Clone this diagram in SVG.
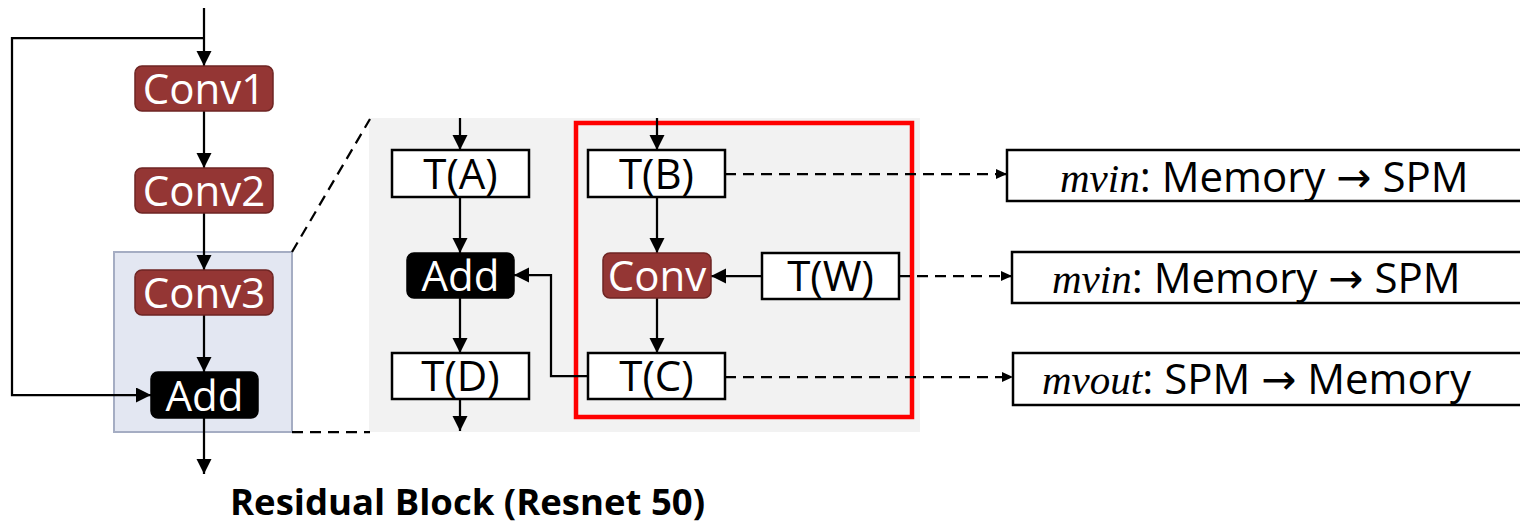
<svg xmlns="http://www.w3.org/2000/svg" width="1520" height="528" viewBox="0 0 1520 528">
<style>
.conv{fill:#943634;stroke:#6e2523;stroke-width:1.5}
.blk{fill:#000;stroke:#000;stroke-width:1.5}
.tb{fill:#fff;stroke:#000;stroke-width:2.5}
.wt{font-family:"Open Sans","Noto Sans",sans-serif;font-size:42px;fill:#fff;text-anchor:middle}
.bt{font-family:"Open Sans","Noto Sans",sans-serif;font-size:42px;fill:#000;text-anchor:middle}
.rt{font-family:"Open Sans","Noto Sans",sans-serif;font-size:42px;fill:#000}
.it{font-family:"Liberation Serif","Times New Roman",serif;font-style:italic;font-size:41px}
.ar{font-family:"DejaVu Sans",sans-serif}
.ln{fill:none;stroke:#000;stroke-width:2.25}
.dl{fill:none;stroke:#000;stroke-width:2.25;stroke-dasharray:11 7}
</style>
<defs>
<marker id="ah" markerUnits="userSpaceOnUse" markerWidth="16" markerHeight="16" refX="15" refY="7.5" orient="auto">
<path d="M0,0 L15,7.5 L0,15 z" fill="#000"/>
</marker>
<marker id="as" markerUnits="userSpaceOnUse" markerWidth="11" markerHeight="11" refX="11" refY="5" orient="auto">
<path d="M0,0 L11,5 L0,10 z" fill="#000"/>
</marker>
</defs>

<g id="background">
<rect id="zoom-region" x="114" y="252" width="178" height="180" fill="#e3e7f2" stroke="#a5adc3" stroke-width="2"/>
<rect id="gray-panel" x="369" y="118" width="551" height="314" fill="#f2f2f2"/>
<rect id="red-frame" x="576" y="123" width="336" height="294" fill="none" stroke="#ff0000" stroke-width="4.5"/>
</g>

<g id="connectors">
<path class="ln" d="M204,8 V66" marker-end="url(#ah)"/>
<path class="ln" d="M204,38 H12 V395 H151" marker-end="url(#ah)"/>
<path class="ln" d="M204,111 V168" marker-end="url(#ah)"/>
<path class="ln" d="M204,213 V270" marker-end="url(#ah)"/>
<path class="ln" d="M204,315 V372" marker-end="url(#ah)"/>
<path class="ln" d="M204,418 V474" marker-end="url(#ah)"/>
<path class="dl" d="M292,252 L370,119"/>
<path class="dl" d="M292,432 H370"/>
<path class="ln" d="M460,118 V150" marker-end="url(#ah)"/>
<path class="ln" d="M460,197 V253" marker-end="url(#ah)"/>
<path class="ln" d="M460,298 V353" marker-end="url(#ah)"/>
<path class="ln" d="M460,399 V431" marker-end="url(#ah)"/>
<path class="ln" d="M657,118 V150" marker-end="url(#ah)"/>
<path class="ln" d="M657,197 V253" marker-end="url(#ah)"/>
<path class="ln" d="M657,298 V353" marker-end="url(#ah)"/>
<path class="ln" d="M762,276 H711" marker-end="url(#ah)"/>
<path class="ln" d="M588,376 H551 V275 H514" marker-end="url(#ah)"/>
<path class="dl" d="M725,174 H1007" marker-end="url(#as)"/>
<path class="dl" d="M899,276 H1012" marker-end="url(#as)"/>
<path class="dl" d="M725,377 H1013" marker-end="url(#as)"/>
</g>

<g id="conv1"><rect class="conv" x="135" y="66" width="138" height="45" rx="7"/><text class="wt" x="204" y="104">Conv1</text></g>
<g id="conv2"><rect class="conv" x="135" y="168" width="138" height="45" rx="7"/><text class="wt" x="204" y="206">Conv2</text></g>
<g id="conv3"><rect class="conv" x="135" y="270" width="138" height="45" rx="7"/><text class="wt" x="204" y="308">Conv3</text></g>
<g id="add-left"><rect class="blk" x="151" y="372" width="107" height="46" rx="7"/><text class="wt" x="204.5" y="411">Add</text></g>

<g id="ta"><rect class="tb" x="392" y="150" width="137" height="47"/><text class="bt" x="460.5" y="189">T(A)</text></g>
<g id="tb"><rect class="tb" x="588" y="150" width="137" height="47"/><text class="bt" x="656.5" y="189">T(B)</text></g>
<g id="add"><rect class="blk" x="407" y="253" width="107" height="45" rx="7"/><text class="wt" x="460.5" y="291">Add</text></g>
<g id="conv"><rect class="conv" x="603" y="253" width="108" height="45" rx="7"/><text class="wt" x="657" y="291">Conv</text></g>
<g id="tw"><rect class="tb" x="762" y="253" width="137" height="46"/><text class="bt" x="830.5" y="291">T(W)</text></g>
<g id="td"><rect class="tb" x="392" y="353" width="137" height="46"/><text class="bt" x="460.5" y="391">T(D)</text></g>
<g id="tc"><rect class="tb" x="588" y="353" width="137" height="46"/><text class="bt" x="656.5" y="391">T(C)</text></g>

<g id="mvin-b"><rect class="tb" x="1007" y="150" width="600" height="51"/><text class="rt" x="1060" y="192"><tspan class="it">mvin</tspan>: Memory <tspan class="ar">→</tspan> SPM</text></g>
<g id="mvin-w"><rect class="tb" x="1012" y="252" width="600" height="51"/><text class="rt" x="1052" y="293"><tspan class="it">mvin</tspan>: Memory <tspan class="ar">→</tspan> SPM</text></g>
<g id="mvout-c"><rect class="tb" x="1013" y="353" width="600" height="52"/><text class="rt" x="1042" y="394"><tspan class="it">mvout</tspan>: SPM <tspan class="ar">→</tspan> Memory</text></g>

<g id="title"><text x="230" y="515" font-family="'Open Sans','Noto Sans',sans-serif" font-size="36.5" font-weight="bold" fill="#000">Residual Block (Resnet 50)</text></g>
</svg>
